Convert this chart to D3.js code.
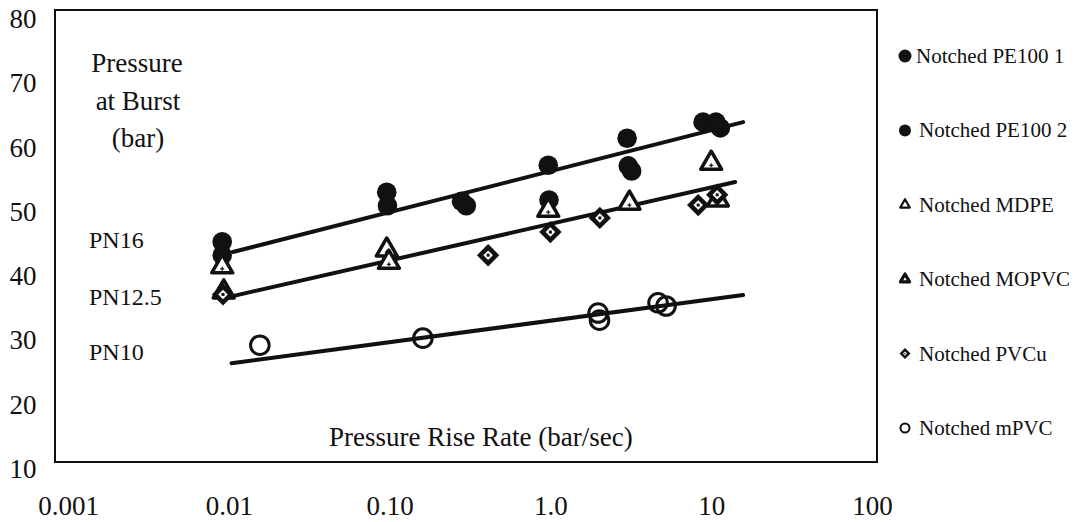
<!DOCTYPE html>
<html>
<head>
<meta charset="utf-8">
<script src="https://cdn.jsdelivr.net/npm/d3@7"></script>
<style>
  body { margin: 0; background: #fff; }
  text { font-family: "Liberation Serif", "Times New Roman", serif; fill: #111; }
</style>
</head>
<body>
<div id="chart"></div>
<script>
// axis ticks
const xTickValues = [0.001, 0.01, 0.1, 1, 10, 100];
const xTickLabels = ["0.001", "0.01", "0.10", "1.0", "10", "100"];
const yTickValues = [10, 20, 30, 40, 50, 60, 70, 80];

// [rate (bar/sec), pressure at burst (bar)]
const pe100_1 = [[0.0091, 45.2], [0.096, 52.9], [0.28, 51.5], [0.97, 57.1], [3.0, 61.3], [8.9, 63.8]];
const pe100_2 = [[0.0091, 43.1], [0.097, 50.8], [0.30, 50.8], [0.98, 51.7], [3.05, 57.0], [3.2, 56.2], [10.7, 63.8], [11.4, 62.9]];
const mdpe = [[0.0091, 41.3], [0.096, 43.9], [0.97, 50.1], [10.0, 57.4]];
const mopvc = [[0.0093, 37.4], [0.099, 42.0], [3.1, 51.2], [11.0, 51.7]];
const pvcu = [[0.0092, 37.0], [0.41, 43.1], [1.0, 46.7], [2.03, 48.9], [8.3, 50.9], [10.9, 52.5]];
const mpvc = [[0.0156, 29.1], [0.161, 30.2], [1.98, 34.1], [2.02, 33.0], [4.67, 35.7], [5.24, 35.2]];

// fitted lines, start and end points
const trendLines = [
  [[0.0106, 43.6], [15.8, 63.8]],
  [[0.0104, 36.7], [14.1, 54.5]],
  [[0.0104, 26.3], [15.8, 36.9]]
];

const legendLabels = ["Notched PE100 1", "Notched PE100 2", "Notched MDPE", "Notched MOPVC", "Notched PVCu", "Notched mPVC"];
const classLabels = ["PN16", "PN12.5", "PN10"];
const classLevels = [248, 305, 360];

const width = 1078, height = 522;
const frame = { left: 55, top: 10, right: 877, bottom: 462 };

const svg = d3.select("#chart")
  .append("svg")
  .attr("width", width)
  .attr("height", height);

const x = d3.scaleLog().domain([0.001, 100]).range([68, 872]);
const y = d3.scaleLinear().domain([10, 80]).range([468, 18]);

// plot frame
svg.append("rect")
  .attr("x", frame.left)
  .attr("y", frame.top)
  .attr("width", frame.right - frame.left)
  .attr("height", frame.bottom - frame.top)
  .attr("fill", "none")
  .attr("stroke", "#111")
  .attr("stroke-width", 2);

// axes (labels only)
const xAxis = svg.append("g")
  .attr("transform", "translate(0,495)")
  .call(d3.axisBottom(x).tickValues(xTickValues).tickSize(0).tickFormat((d, i) => xTickLabels[i]));
xAxis.select(".domain").remove();
xAxis.selectAll("text")
  .attr("y", 0)
  .attr("dy", "0.75em")
  .style("font-size", "27px")
  .style("font-family", "Liberation Serif");

const yAxis = svg.append("g")
  .attr("transform", "translate(23,0)")
  .call(d3.axisLeft(y).tickValues(yTickValues).tickSize(0).tickFormat(d3.format("d")));
yAxis.select(".domain").remove();
yAxis.selectAll("text")
  .attr("x", 0)
  .attr("dy", "0.35em")
  .attr("text-anchor", "middle")
  .style("font-size", "27px")
  .style("font-family", "Liberation Serif");

// annotations
const annot = svg.append("g").attr("font-size", 27).attr("text-anchor", "middle");
annot.append("text").attr("x", 137).attr("y", 72).text("Pressure");
annot.append("text").attr("x", 138).attr("y", 110).text("at Burst");
annot.append("text").attr("x", 138).attr("y", 147).text("(bar)");

svg.append("g").selectAll("text")
  .data(classLabels)
  .join("text")
  .attr("x", 89)
  .attr("y", (d, i) => classLevels[i])
  .attr("font-size", 24)
  .text(d => d);

svg.append("text")
  .attr("x", 329)
  .attr("y", 446)
  .attr("font-size", 27)
  .text("Pressure Rise Rate (bar/sec)");

// fitted lines
svg.append("g").selectAll("line")
  .data(trendLines)
  .join("line")
  .attr("x1", d => x(d[0][0]))
  .attr("y1", d => y(d[0][1]))
  .attr("x2", d => x(d[1][0]))
  .attr("y2", d => y(d[1][1]))
  .attr("stroke", "#111")
  .attr("stroke-width", 4)
  .attr("stroke-linecap", "round");

// marker styles
const circleSym = s => d3.symbol(d3.symbolCircle, s)();
const triSym = s => d3.symbol(d3.symbolTriangle, s)();
const squareSym = s => d3.symbol(d3.symbolSquare, s)();

function drawFilled(g, r) {
  g.append("path").attr("d", circleSym(Math.PI * r * r)).attr("fill", "#111");
}
function drawOpen(g, r, sw) {
  g.append("path").attr("d", circleSym(Math.PI * r * r)).attr("fill", "none")
    .attr("stroke", "#111").attr("stroke-width", sw);
}
function drawTriangle(g, s, sw, inner) {
  g.append("path").attr("d", triSym(s)).attr("fill", "#fff")
    .attr("stroke", "#111").attr("stroke-width", sw).attr("stroke-linejoin", "round");
  if (inner) g.append("path").attr("d", "M-2,2H2M0,0V4").attr("stroke", "#111").attr("stroke-width", 1.2);
}
function drawDiamond(g, s, inner) {
  g.append("path").attr("d", squareSym(s)).attr("transform", "rotate(45)").attr("fill", "#111");
  g.append("path").attr("d", squareSym(s * inner)).attr("transform", "rotate(45)").attr("fill", "#fff");
  g.append("path").attr("d", squareSym(s * inner * 0.2)).attr("fill", "#111");
}

const series = [
  { data: pe100_1, draw: g => drawFilled(g, 9.8) },
  { data: pe100_2, draw: g => drawFilled(g, 9.8) },
  { data: mdpe, draw: g => drawTriangle(g, 190, 3.5, true) },
  { data: mopvc, draw: g => drawTriangle(g, 190, 3.5, true) },
  { data: pvcu, draw: g => drawDiamond(g, 250, 0.18) },
  { data: mpvc, draw: g => drawOpen(g, 9.3, 3) }
];

const pts = svg.append("g");
series.forEach(s => {
  pts.append("g").selectAll("g")
    .data(s.data)
    .join("g")
    .attr("transform", d => `translate(${x(d[0])},${y(d[1])})`)
    .each(function () { s.draw(d3.select(this)); });
});

// legend
const legendMarkers = [
  g => drawFilled(g, 6.5),
  g => drawFilled(g, 6),
  g => drawTriangle(g, 40, 2.2, false),
  g => drawTriangle(g, 36, 3.2, false),
  g => drawDiamond(g, 60, 0.15),
  g => drawOpen(g, 4.5, 2)
];

const legend = svg.append("g").selectAll("g")
  .data(legendLabels)
  .join("g")
  .attr("transform", (d, i) => `translate(905,${56 + i * 74.4})`);
legend.each(function (d, i) { legendMarkers[i](d3.select(this)); });
legend.append("text")
  .attr("x", (d, i) => i === 0 ? 11 : 14)
  .attr("y", 7)
  .attr("font-size", 21)
  .text(d => d);
</script>
</body>
</html>
